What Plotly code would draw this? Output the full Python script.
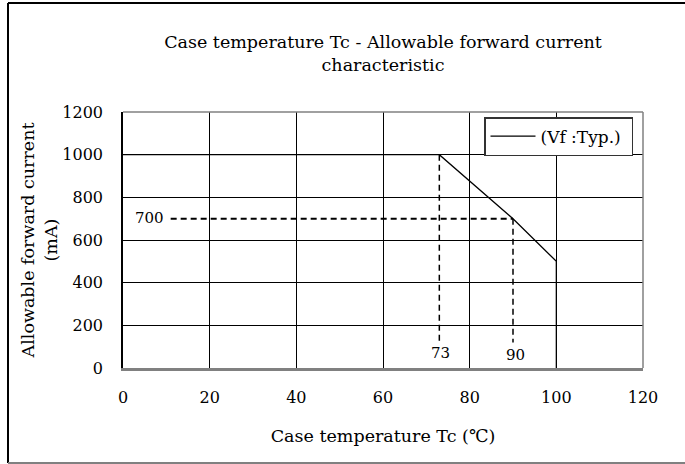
import plotly.graph_objects as go

# Data
tc = [0, 73, 90, 100, 100]
current = [1000, 1000, 700, 500, 0]

guide_h_x = [11, 90]
guide_h_y = [700, 700]
guide_73_x = [73, 73]
guide_73_y = [1000, 123]
guide_90_x = [90, 90]
guide_90_y = [700, 120]

x_ticks = [0, 20, 40, 60, 80, 100, 120]
y_ticks = [0, 200, 400, 600, 800, 1000, 1200]

FONT = "DejaVu Serif"
W, H = 685, 464
L, R, T, B = 123, 42, 112, 96

fig = go.Figure()
fig.add_trace(go.Scatter(x=tc, y=current, mode="lines", name="(Vf :Typ.)\u00a0",
                         line=dict(color="black", width=1.3)))
fig.add_trace(go.Scatter(x=guide_h_x, y=guide_h_y, mode="lines", showlegend=False,
                         line=dict(color="black", width=2, dash="6px,4px"), hoverinfo="skip"))
fig.add_trace(go.Scatter(x=guide_73_x, y=guide_73_y, mode="lines", showlegend=False,
                         line=dict(color="black", width=1.5, dash="6px,4px"), hoverinfo="skip"))
fig.add_trace(go.Scatter(x=guide_90_x, y=guide_90_y, mode="lines", showlegend=False,
                         line=dict(color="black", width=1.5, dash="6px,4px"), hoverinfo="skip"))

annots = [
    dict(x=6.2, y=703, text="700"),
    dict(x=73.2, y=70, text="73"),
    dict(x=90.5, y=62, text="90"),
]
for a in annots:
    fig.add_annotation(x=a["x"], y=a["y"], text=a["text"], showarrow=False,
                       font=dict(family=FONT, size=15, color="black"),
                       xref="x", yref="y")

def px2paper_x(px):
    return (px - L) / (W - L - R)

def px2paper_y(py):
    return (H - B - py) / (H - T - B)

shapes = [
    dict(type="line", xref="paper", yref="paper", x0=0, x1=1, y0=1, y1=1,
         line=dict(color="#808080", width=1.5)),
    dict(type="line", xref="paper", yref="paper", x0=1, x1=1, y0=0, y1=1,
         line=dict(color="#808080", width=1.5)),
    dict(type="line", xref="paper", yref="paper", x0=px2paper_x(8), x1=px2paper_x(8),
         y0=px2paper_y(3), y1=px2paper_y(463), line=dict(color="black", width=2)),
    dict(type="line", xref="paper", yref="paper", x0=px2paper_x(8), x1=px2paper_x(700),
         y0=px2paper_y(3), y1=px2paper_y(3), line=dict(color="black", width=2)),
    dict(type="line", xref="paper", yref="paper", x0=px2paper_x(8), x1=px2paper_x(700),
         y0=px2paper_y(463), y1=px2paper_y(463), line=dict(color="#808080", width=2)),
]

fig.update_layout(
    width=W, height=H,
    margin=dict(l=L, r=R, t=T, b=B, pad=0),
    paper_bgcolor="white", plot_bgcolor="white",
    font=dict(family=FONT, size=16, color="black"),
    title=dict(text="Case temperature Tc - Allowable forward current<br>characteristic",
               x=0.5, xref="paper", xanchor="center", y=1 - 48 / H, yanchor="middle",
               font=dict(family=FONT, size=17.5, color="black")),
    showlegend=True,
    legend=dict(x=px2paper_x(484), y=px2paper_y(117), xanchor="left", yanchor="top",
                bgcolor="white", bordercolor="#333333", borderwidth=1.5,
                itemwidth=45, tracegroupgap=0,
                font=dict(family=FONT, size=17, color="black")),
    shapes=shapes,
    xaxis=dict(range=[0, 120], tickvals=x_ticks, ticktext=[str(v) for v in x_ticks],
               showgrid=True, gridcolor="black", gridwidth=1, zeroline=False,
               showline=True, linecolor="#808080", linewidth=3,
               ticks="", ticklabelstandoff=13,
               title=dict(text="Case temperature Tc (℃)", standoff=24,
                          font=dict(family=FONT, size=17.5)),
               tickfont=dict(family=FONT, size=16)),
    yaxis=dict(range=[0, 1200], tickvals=y_ticks, ticktext=[str(v) for v in y_ticks],
               showgrid=True, gridcolor="black", gridwidth=1, zeroline=False,
               showline=True, linecolor="black", linewidth=1.5,
               ticks="", ticklabelstandoff=15,
               title=dict(text="Allowable forward current<br>(mA)", standoff=0,
                          font=dict(family=FONT, size=17.5)),
               tickfont=dict(family=FONT, size=16)),
)

fig.write_html("out.html", config={"displayModeBar": False},
               post_script="document.body.style.margin='0';")
